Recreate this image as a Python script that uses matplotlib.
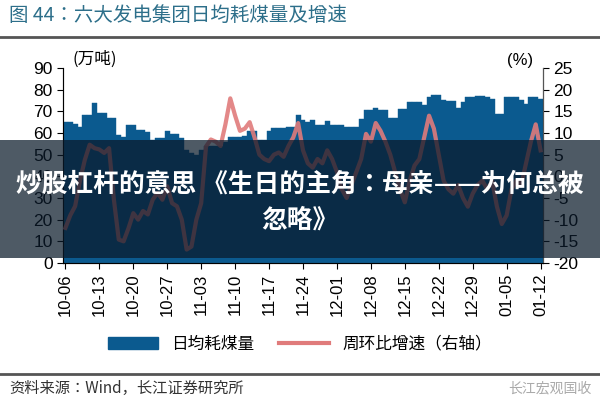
import matplotlib
matplotlib.use("Agg")
import matplotlib.pyplot as plt
from matplotlib import font_manager
import numpy as np
from matplotlib.patches import Rectangle
from matplotlib.lines import Line2D

names = {f.name for f in font_manager.fontManager.ttflist}
cjk = [n for n in ["Noto Sans CJK SC", "Noto Sans CJK JP", "Noto Sans CJK TC", "Noto Sans CJK KR",
                   "Noto Sans SC", "Noto Sans CJK"] if n in names]
if not cjk:
    cjk = [n for n in names if "CJK" in n]
plt.rcParams['font.family'] = 'sans-serif'
plt.rcParams['font.sans-serif'] = cjk + ['DejaVu Sans']
plt.rcParams['axes.unicode_minus'] = False
NUM = 'Liberation Sans'

tick_labels = ["10-06","10-13","10-20","10-27","11-03","11-10","11-17","11-24",
               "12-01","12-08","12-15","12-22","12-29","01-05","01-12"]

coal = [65.2,65.2,64,62.9,68.3,68.3,73.7,69.1,69.1,66.8,66.8,59.1,58.3,63.7,63.7,
        61.4,61.4,60.6,56.8,57.6,57.6,61.1,59.5,59.5,57.6,52,51,50,52,54,
        54,54,54,56,58,58,58,58.6,61,61,56.8,56.8,61.1,62.2,62.2,62.2,62.9,62.9,
        68.3,66,65.2,66,63.7,63.7,65.7,63.7,63.7,63.7,62.9,62.9,62.9,66.3,70.6,70.6,
        71.4,70.6,70.6,66.8,66.8,70.9,70.9,74.4,74.4,74.4,72.9,76.6,77.7,77.7,75.1,74.8,
        74.8,71.6,74.4,76.4,76.4,77,77,76.4,75.5,68.7,68.7,76.4,76.6,76.6,75.1,73.6,
        76.4,76.4,75.5]

growth = [-11.9,-9,-6.9,-1,3.8,7.3,6.5,6.2,5.4,6.5,-5.4,-14.6,-15,-12,-8.5,-10,
          -8,-8.8,-5.4,-3.8,-5.4,-2.3,-6.2,-6.9,-10,-16.9,-16.2,-10,-6.2,6.9,
          8.5,8,7,12,18,14,10.5,11,12.5,9,5,4,3.5,5,5.5,4.5,7,9,
          12.3,6,3,2,4,3,6,4,1,-3,-5,-2,1,4,9.8,8,12.3,10.5,8,5,1,-3,
          -6,-1,2.5,4,9,14,11,5,-1,-3,-4,-2,-5,-7,-4,-2,-1,-3,-1,-7,
          -11,-9,-3,-1,-2,3,8,12,6]

n = len(coal)
x = np.arange(n)

fig = plt.figure(figsize=(6, 4), dpi=100)
ax = fig.add_axes([0.105, 0.3425, 0.8, 0.4875])
ax.bar(x, coal, width=1.0, color='#0b5a8f', edgecolor='#0b5a8f', linewidth=0.3, zorder=2)
ax.set_xlim(-0.5, n - 0.5)
ax.set_ylim(0, 90)
ax.set_yticks(range(0, 91, 10))
ax.set_yticklabels([str(v) for v in range(0, 91, 10)], fontfamily=NUM, fontsize=12.5)
ax.set_xticks(np.arange(0, n, 7))
ax.set_xticklabels(tick_labels, rotation=90, fontsize=12, fontfamily=NUM)
ax.tick_params(axis='y', direction='out', length=4)
ax.tick_params(axis='x', length=4)
ax.spines['top'].set_visible(False)
ax.spines['left'].set_color('#555555')
ax.spines['bottom'].set_color('#555555')

ax2 = ax.twinx()
ax2.plot(x, growth, color='#e07b7b', linewidth=3, alpha=0.9, zorder=3)
ax2.set_ylim(-20, 25)
ax2.set_yticks(range(-20, 26, 5))
ax2.set_yticklabels([str(v) for v in range(-20, 26, 5)], fontfamily=NUM, fontsize=12.5)
ax2.tick_params(axis='y', direction='out', length=4)
ax2.spines['top'].set_visible(False)
ax2.spines['right'].set_color('#555555')

ax.text(0.02, 1.0, "(万吨)", transform=ax.transAxes, fontsize=12, va='bottom', ha='left')
ax2.text(0.98, 1.0, "(%)", transform=ax2.transAxes, fontsize=12, va='bottom', ha='right', fontfamily=NUM)

fig.text(0.015, 0.962, "图 44：六大发电集团日均耗煤量及增速", fontsize=14, color='#2d6f8a', va='center')
fig.add_artist(Line2D([0.0, 1.0], [0.908, 0.908], color='#555555', linewidth=2))
fig.add_artist(Line2D([0.0, 1.0], [0.065, 0.065], color='#555555', linewidth=2))
fig.text(0.015, 0.03, "资料来源：Wind，长江证券研究所", fontsize=11, va='center', color='#333333')
fig.text(0.985, 0.03, "长江宏观国收", fontsize=10, va='center', ha='right', color='#aaaaaa')

handles = [Rectangle((0, 0), 1, 1, color='#0b5a8f'),
           Line2D([0], [0], color='#e07b7b', linewidth=3)]
fig.legend(handles, ["日均耗煤量", "周环比增速（右轴）"], loc='center', bbox_to_anchor=(0.5, 0.14),
           ncol=2, frameon=False, fontsize=12, handlelength=3, columnspacing=1.5)

fig.add_artist(Rectangle((0, 0.355), 1, 0.295, transform=fig.transFigure,
                         facecolor='#0a1a2a', alpha=0.72, zorder=10))
fig.text(0.5, 0.54, "炒股杠杆的意思 《生日的主角：母亲——为何总被", fontsize=18.5, fontweight='bold',
         color='white', ha='center', va='center', zorder=11)
fig.text(0.5, 0.45, "忽略》", fontsize=18.5, fontweight='bold',
         color='white', ha='center', va='center', zorder=11)

fig.savefig("out.png", dpi=100)
